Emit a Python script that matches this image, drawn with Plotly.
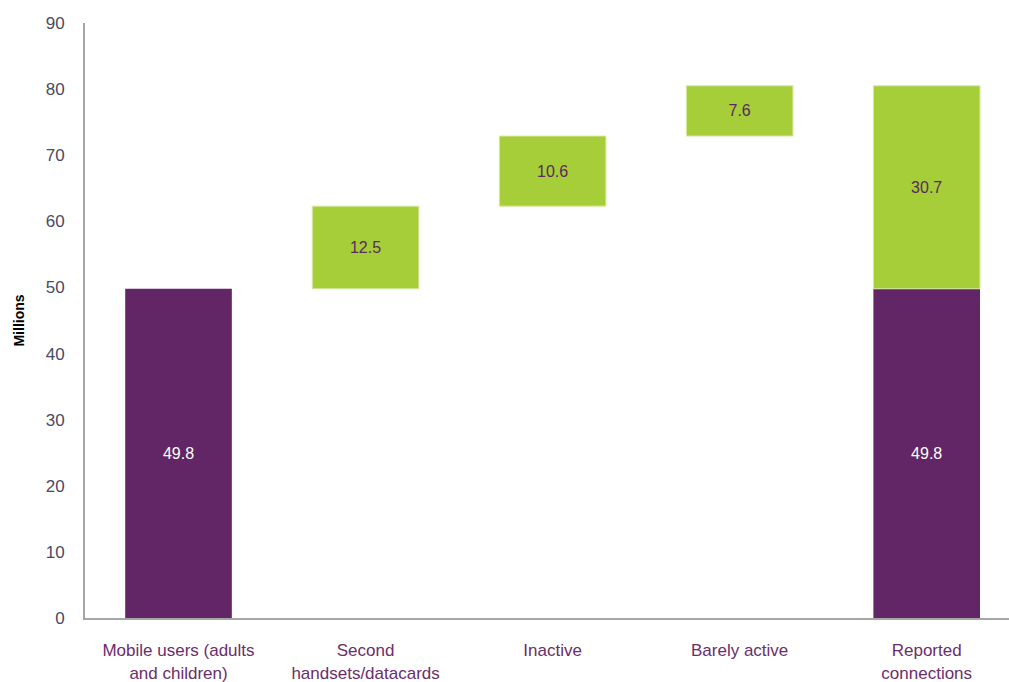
import plotly.graph_objects as go

categories = [
    "Mobile users (adults<br>and children)",
    "Second<br>handsets/datacards",
    "Inactive",
    "Barely active",
    "Reported<br>connections",
]
users = 49.8
increments = [12.5, 10.6, 7.6]
reported_extra = 30.7

PURPLE = "#622565"
GREEN = "#a6ce39"
LABEL_DARK = "#5a2a5c"
FONT = "Liberation Sans, Arial"

# bases for the floating (waterfall) increments
bases = []
running = users
for v in increments:
    bases.append(running)
    running += v

fig = go.Figure()

# purple base columns: first and last categories
fig.add_trace(go.Bar(
    x=[categories[0], categories[4]],
    y=[users, users],
    marker=dict(color=PURPLE, line=dict(width=0)),
    text=[f"{users:.1f}", f"{users:.1f}"],
    textposition="inside",
    insidetextanchor="middle",
    textfont=dict(color="white", size=16, family=FONT),
    width=0.57,
    showlegend=False,
    hoverinfo="skip",
))

# green floating increments and stacked remainder
fig.add_trace(go.Bar(
    x=categories[1:4] + [categories[4]],
    y=increments + [reported_extra],
    base=bases + [users],
    marker=dict(color=GREEN, line=dict(width=1, color="#d6eaa0")),
    text=[f"{v:.1f}" for v in increments + [reported_extra]],
    textposition="inside",
    insidetextanchor="middle",
    textfont=dict(color=LABEL_DARK, size=16, family=FONT),
    width=0.57,
    showlegend=False,
    hoverinfo="skip",
))

fig.update_layout(
    width=1009,
    height=682,
    margin=dict(l=85, r=0, t=23, b=64),
    plot_bgcolor="white",
    paper_bgcolor="white",
    barmode="overlay",
    font=dict(family=FONT, color="#404040"),
)

fig.update_xaxes(
    categoryorder="array",
    categoryarray=categories,
    range=[-0.5, 4.44],
    showline=True,
    linecolor="#a6a6a6",
    linewidth=2,
    ticks="",
    ticklabelstandoff=16,
    tickfont=dict(size=17, color="#6b2d6b", family=FONT),
    showgrid=False,
    fixedrange=True,
)

fig.update_yaxes(
    range=[0, 90],
    dtick=10,
    showline=True,
    linecolor="#a6a6a6",
    linewidth=2,
    ticks="",
    ticklabelstandoff=15,
    tickfont=dict(size=17, color="#4a4a62", family=FONT),
    showgrid=False,
    zeroline=False,
    title=dict(text="<b>Millions</b>", font=dict(size=14, color="black"), standoff=18),
)

fig.write_html("out.html")
